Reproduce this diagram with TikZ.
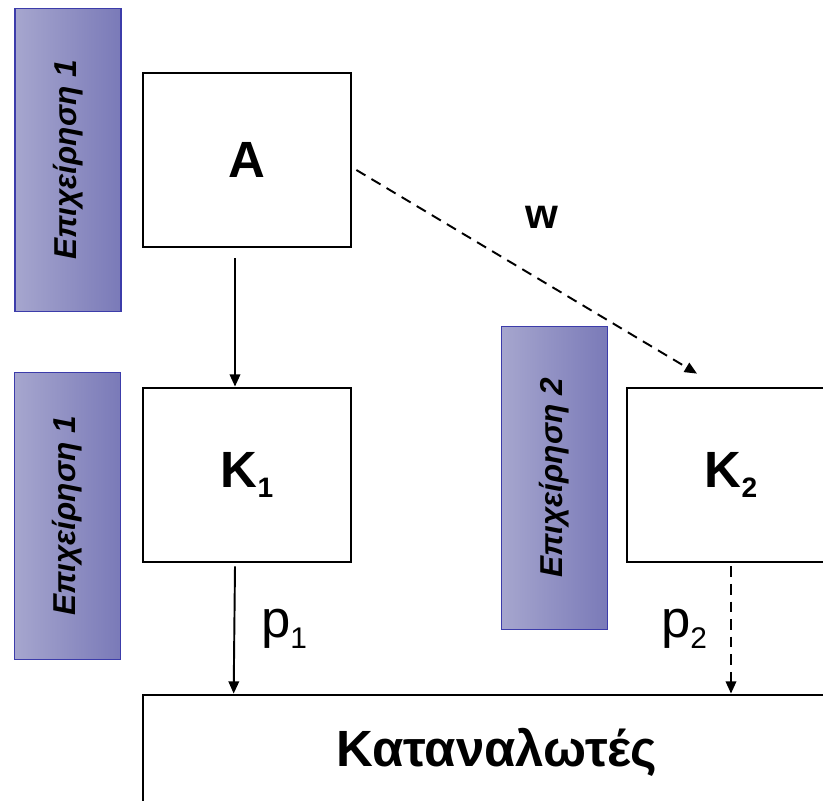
\documentclass[tikz,border=0pt]{standalone}
\usepackage{fontspec}
\setmainfont{Liberation Sans}
\usetikzlibrary{calc,arrows.meta}

\definecolor{firmlight}{RGB}{166,166,206}
\definecolor{firmdark}{RGB}{122,122,184}
\definecolor{firmedge}{RGB}{60,60,170}
\newcommand{\lowidx}[2]{\raisebox{-0.2em}{\fontsize{#1}{#1}\selectfont #2}}

\begin{document}
\begin{tikzpicture}[x=0.02cm,y=-0.02cm,
  firmbar/.style={draw=firmedge,line width=0.6pt,left color=firmlight,right color=firmdark,
    minimum width=2.12cm,inner sep=0pt,font=\fontsize{18}{18}\selectfont\bfseries\itshape},
  stage/.style={draw,line width=1.6pt,fill=white,minimum width=4.16cm,minimum height=3.48cm,
    inner sep=0pt,font=\fontsize{29}{34}\selectfont\bfseries},
  link/.style={line width=1.1pt,-{Triangle[length=7pt,width=6pt]}},
  price/.style={font=\fontsize{30}{34}\selectfont}]
  \useasboundingbox (0,0) rectangle (823,801);
  \clip (0,0) rectangle (823,801);
  % ---------------- firms ----------------
  \foreach \nm/\cx/\cy/\h/\txt in {barA/68/160/6.08/1,barK1/67.5/516/5.74/1,barK2/554.5/478/6.08/2}{
    \node[firmbar,minimum height=\h cm] (\nm) at (\cx,\cy) {\rotatebox{90}{Επιχείρηση \txt}};
  }
  % ---------------- stages ----------------
  \node[stage] (boxA) at (247,160) {A};
  \node[stage] (boxK1) at (247,475) {K\lowidx{16}{1}};
  \node[stage] (boxK2) at (731,475) {K\lowidx{16}{2}};
  \node[stage,minimum width=14.16cm,minimum height=2.28cm] (consumers) at (497,752) {Καταναλωτές};
  % ---------------- links ----------------
  \draw[link] ($(boxA.south)+(-12,10)$) -- ($(boxK1.north)+(-12,0)$);
  \draw[link] ($(boxK1.south)+(-12,3)$) -- ($(consumers.north west)+(92,0)$);
  \draw[link,dash pattern=on 6pt off 4pt] ($(boxA.east)+(4,10)$) -- ($(boxK2.north)+(-34,-13)$);
  \draw[link,dash pattern=on 6pt off 4pt] ($(boxK2.south)+(0,3)$) -- (boxK2.south |- consumers.north);
  % ---------------- labels ----------------
  \node[price] (lblp1) at (284,629) {p\lowidx{17}{1}};
  \node[price] (lblp2) at (684,629) {p\lowidx{17}{2}};
  \node[font=\fontsize{24}{24}\selectfont\bfseries] (lblw) at (542,217) {w};
\end{tikzpicture}
\end{document}
